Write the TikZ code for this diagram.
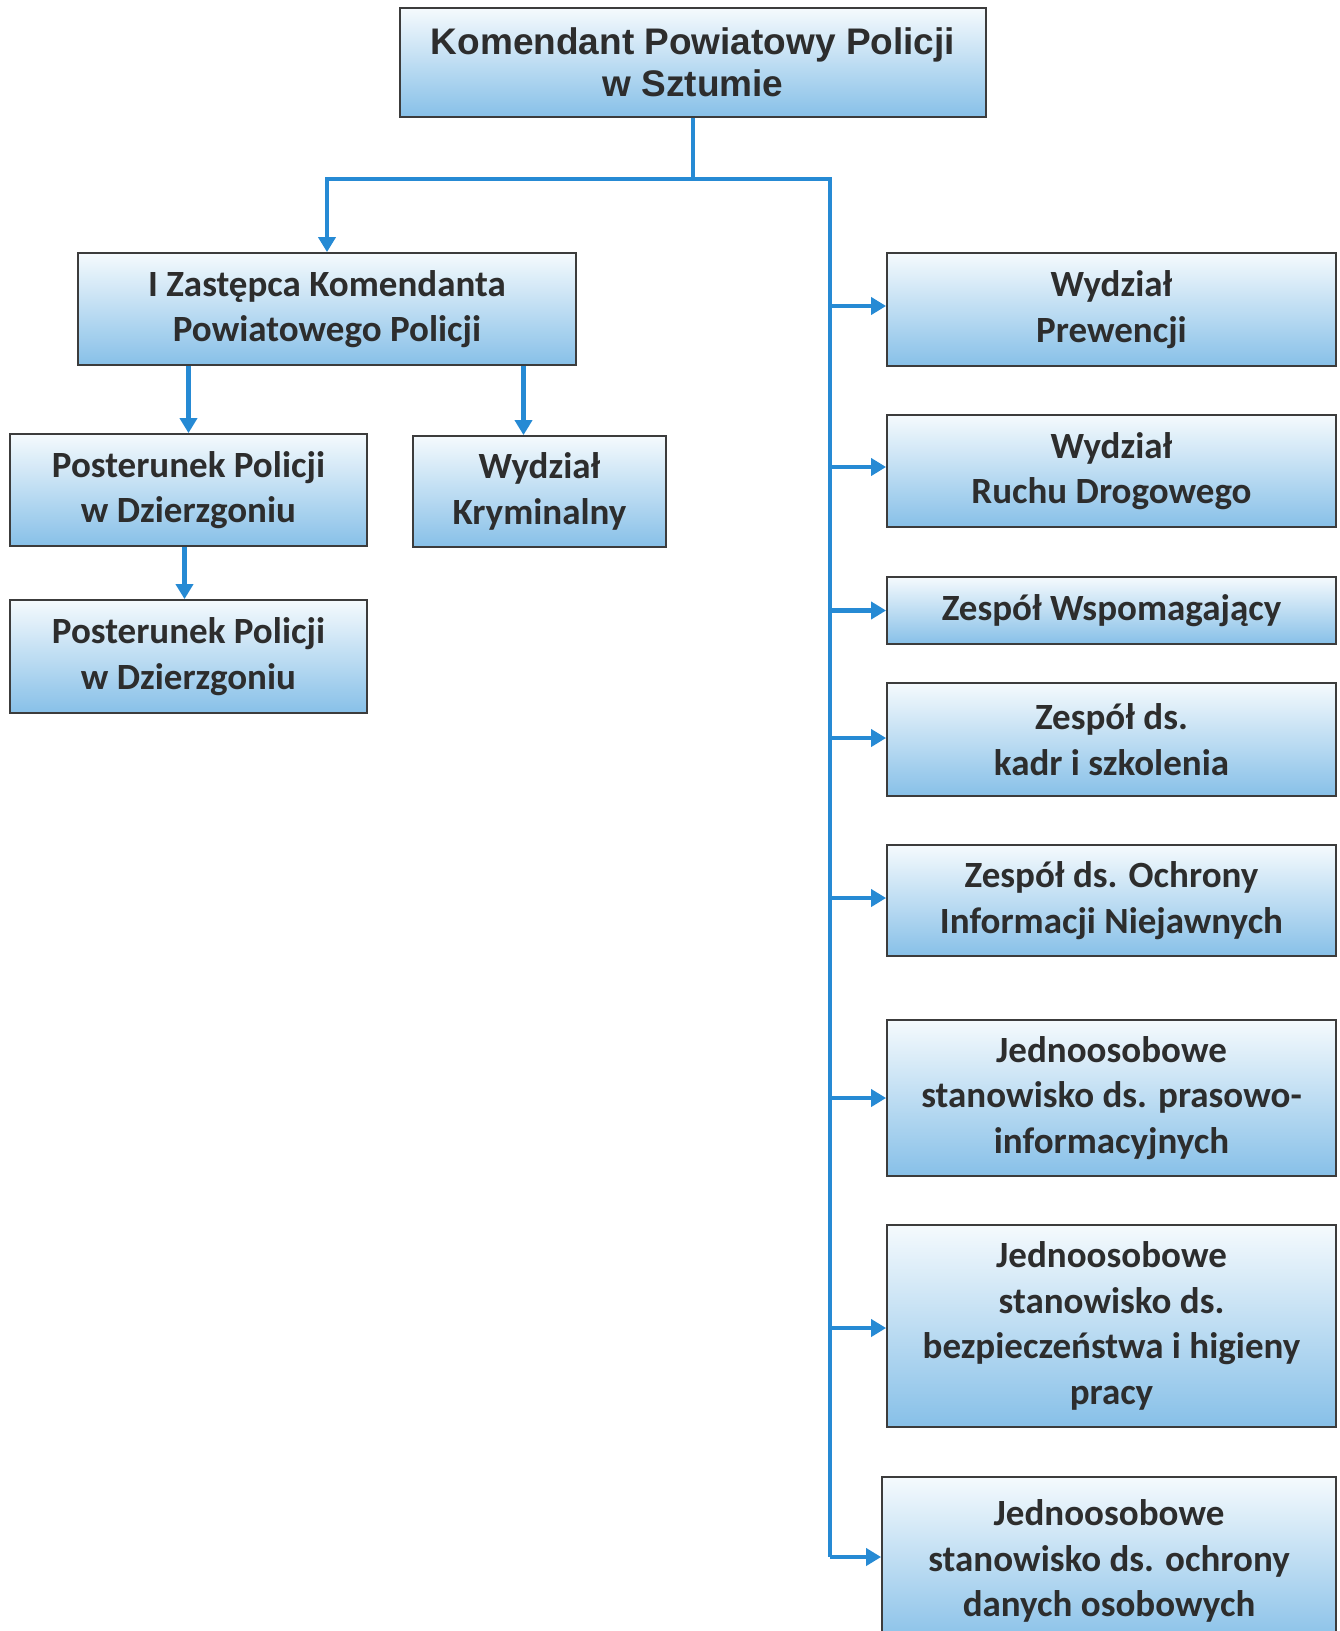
\documentclass[tikz,border=0pt]{standalone}
\usepackage{fontspec}
\setmainfont{Carlito}
\newfontfamily\arialfont{Liberation Sans}
\usetikzlibrary{arrows.meta}
\usetikzlibrary{positioning}

\definecolor{boxline}{RGB}{60,60,60}
\definecolor{boxtop}{RGB}{245,250,253}
\definecolor{boxbottom}{RGB}{135,192,232}
\definecolor{linkblue}{RGB}{38,138,212}
\definecolor{boxtext}{RGB}{45,45,45}

\begin{document}
\begin{tikzpicture}[x=1pt, y=-1pt,
  unit/.style={draw=boxline, line width=1.8pt, shape=rectangle, top color=boxtop, bottom color=boxbottom, text=boxtext, align=center, inner sep=0pt, font=\fontsize{37}{45.5}\selectfont\bfseries},
  wire/.style={draw=linkblue, line width=4.5pt},
  link/.style={wire, -{Triangle[length=15pt, width=17pt]}}]
\useasboundingbox (0,0) rectangle (1340,1631);
\node[unit, minimum width=586pt, minimum height=109pt, font=\arialfont\fontsize{37}{41.6}\selectfont\bfseries] (kpp) at (693,62.5) {Komendant Powiatowy Policji\\w Sztumie};
\node[unit, minimum width=498pt, minimum height=112pt, below of=kpp, node distance=246.5pt, xshift=-366pt] (zast) {I Zastępca Komendanta\\Powiatowego Policji};
\node[unit, minimum width=357pt, minimum height=112pt, below of=zast, node distance=181pt, xshift=-138.5pt] (post1) {Posterunek Policji\\w Dzierzgoniu};
\node[unit, minimum width=253pt, minimum height=111pt, below of=zast, node distance=182.5pt, xshift=212.5pt] (krym) {Wydział\\Kryminalny};
\node[unit, minimum width=357pt, minimum height=113pt, below of=post1, node distance=166.5pt] (post2) {Posterunek Policji\\w Dzierzgoniu};
%\node[unit, minimum width=449pt, minimum height=113pt, right of=zast, node distance=784pt] (prew) {Wydział\\Prewencji};
\node[unit, minimum width=449pt, minimum height=113pt, below of=kpp, node distance=247pt, xshift=418.5pt] (prew) {Wydział\\Prewencji};
\node[unit, minimum width=449pt, minimum height=112pt, below of=prew, node distance=161.5pt] (ruch) {Wydział\\Ruchu Drogowego};
\node[unit, minimum width=449pt, minimum height=67pt, below of=ruch, node distance=139.5pt] (wsp) {Zespół Wspomagający};
\node[unit, minimum width=449pt, minimum height=113pt, below of=wsp, node distance=129pt] (kadr) {Zespół ds.\\kadr i szkolenia};
\node[unit, minimum width=449pt, minimum height=111pt, below of=kadr, node distance=161pt] (onie) {Zespół ds. Ochrony\\Informacji Niejawnych};
\node[unit, minimum width=449pt, minimum height=156pt, below of=onie, node distance=197.5pt] (pras) {Jednoosobowe\\stanowisko ds. prasowo-\\informacyjnych};
\node[unit, minimum width=449pt, minimum height=202pt, below of=pras, node distance=228pt] (bhp) {Jednoosobowe\\stanowisko ds.\\bezpieczeństwa i higieny\\pracy};
\node[unit, minimum width=454pt, minimum height=168pt, below of=bhp, node distance=235pt, xshift=-2.5pt] (odo) {Jednoosobowe\\stanowisko ds. ochrony\\danych osobowych};
\coordinate (split) at (693,179);
\coordinate (bus) at (830,179);
\coordinate (krymin) at ([xshift=-16pt] krym.north);
\draw[wire] (kpp.south) -- (split);
\draw[link] (split) -| (zast.north);
\draw[wire] (split) -- (bus) -- ([yshift=4pt] bus |- odo.west);
\draw[link] (post1.north |- zast.south) -- (post1.north);
\draw[link] (krymin |- zast.south) -- (krymin);
\draw[link] ([xshift=-4pt] post1.south) -- ([xshift=-4pt] post2.north);
\draw[link] ([yshift=3.5pt] bus |- prew.west) -- ([yshift=3.5pt] prew.west);
\draw[link] ([yshift=4pt] bus |- ruch.west) -- ([yshift=4pt] ruch.west);
\draw[link] (bus |- wsp.west) -- (wsp.west);
\draw[link] ([yshift=1.5pt] bus |- kadr.west) -- ([yshift=1.5pt] kadr.west);
\draw[link] ([yshift=2.5pt] bus |- onie.west) -- ([yshift=2.5pt] onie.west);
\draw[link] (bus |- pras.west) -- (pras.west);
\draw[link] ([yshift=-2pt] bus |- bhp.west) -- ([yshift=-2pt] bhp.west);
\draw[link] ([yshift=4pt] bus |- odo.west) -- ([yshift=4pt] odo.west);
\end{tikzpicture}
\end{document}
